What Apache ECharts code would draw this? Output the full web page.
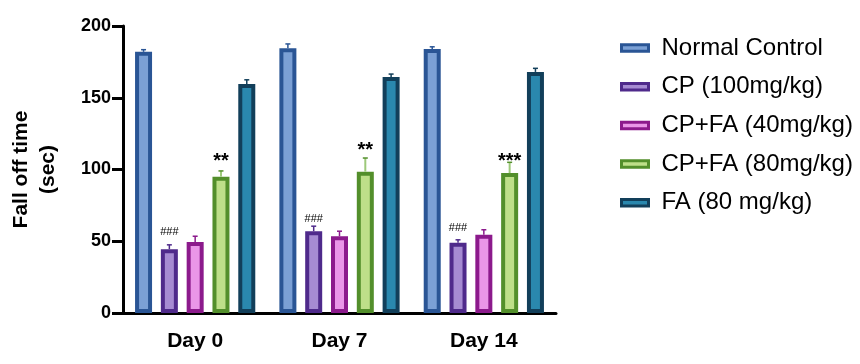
<!DOCTYPE html>
<html><head><meta charset="utf-8">
<script src="https://cdn.jsdelivr.net/npm/echarts@6/dist/echarts.min.js"></script>
<style>html,body{margin:0;padding:0;background:#fff}#c{width:860px;height:364px}</style>
</head><body><div id="c"></div>
<script>
// ---- data ----
const categories = ['Day 0', 'Day 7', 'Day 14'];
const seriesNames = ['Normal Control', 'CP (100mg/kg)', 'CP+FA (40mg/kg)', 'CP+FA (80mg/kg)', 'FA (80 mg/kg)'];
const normalControl = [182, 184.5, 184];
const normalControlErr = [1.5, 3, 1.5];
const cp100 = [44.5, 57, 49];
const cp100Err = [3, 3.5, 2];
const cpFa40 = [49.5, 53.5, 54.5];
const cpFa40Err = [4, 3.5, 3.5];
const cpFa80 = [95, 98.5, 97.5];
const cpFa80Err = [4, 9.5, 7.5];
const fa80 = [159.5, 164.5, 168];
const fa80Err = [3, 2, 2.5];
const yTicks = [0, 50, 100, 150, 200];
// significance marks (text, position in axis units)
const hashMarks = ['###', '###', '###'];
const hashMarkY = [56.6, 65.7, 59.2];
const starMarks = ['**', '**', '***'];
const starMarkY = [109, 116.7, 109];

// ---- styles ----
const borderColors = ['#2A5595', '#4F2A8B', '#8C1A8C', '#538F2B', '#123F5A'];
const fillColors = ['#7BA0D5', '#A68BD2', '#EA96E8', '#BEDF89', '#2A88AE'];
const stemColors = ['#2A5595', '#4F2A8B', '#8C1A8C', '#9DC97A', '#123F5A'];
const FONT = 'Liberation Sans';
const barW = 17, gapRatio = 0.518;
const spacing = barW * (1 + gapRatio);

const values = [normalControl, cp100, cpFa40, cpFa80, fa80];
const errs = [normalControlErr, cp100Err, cpFa40Err, cpFa80Err, fa80Err];

const series = [];
values.forEach((vals, i) => {
  series.push({
    type: 'bar', name: seriesNames[i], data: vals,
    barWidth: barW, barGap: (gapRatio * 100) + '%',
    itemStyle: { color: fillColors[i], borderColor: borderColors[i], borderWidth: 4 },
    emphasis: { disabled: true }, z: 2
  });
});
values.forEach((vals, i) => {
  series.push({
    type: 'custom', name: seriesNames[i] + ' err', z: 3,
    data: vals.map((v, j) => [j, v, v + errs[i][j]]),
    renderItem: (params, api) => {
      const b = api.coord([api.value(0), api.value(1)]);
      const t = api.coord([api.value(0), api.value(2)]);
      const x = b[0] + (i - 2) * spacing;
      return {
        type: 'group', children: [
          { type: 'line', shape: { x1: x, y1: b[1], x2: x, y2: t[1] }, style: { stroke: stemColors[i], lineWidth: i === 3 ? 2 : 1.5 } },
          { type: 'line', shape: { x1: x - 2.5, y1: t[1], x2: x + 2.5, y2: t[1] }, style: { stroke: borderColors[i], lineWidth: 1.5 } }
        ]
      };
    }
  });
});
function markSeries(texts, ys, seriesIdx, fontSize, weight, dy) {
  return {
    type: 'custom', z: 4, silent: true,
    data: texts.map((t, j) => [j, ys[j]]),
    renderItem: (params, api) => {
      const p = api.coord([api.value(0), api.value(1)]);
      return {
        type: 'text', x: p[0] + (seriesIdx - 2) * spacing, y: p[1] + dy,
        style: { text: texts[params.dataIndex], font: weight + ' ' + fontSize + 'px "' + FONT + '"', fill: '#000', align: 'center', verticalAlign: 'middle' }
      };
    }
  };
}
series.push(markSeries(hashMarks, hashMarkY, 1, 11, 'normal', 0));
series.push(markSeries(starMarks, starMarkY, 3, 20, 'bold', 5));

const option = {
  animation: false,
  textStyle: { fontFamily: FONT },
  grid: { left: 123, right: 304, top: 26, bottom: 51, containLabel: false },
  legend: {
    data: seriesNames, orient: 'vertical', left: 620, top: 36, padding: 0,
    icon: 'rect', itemWidth: 27, itemHeight: 6.5, itemGap: 14.7,
    itemStyle: { borderWidth: 3 },
    textStyle: { fontFamily: FONT, fontSize: 24, color: '#000', lineHeight: 24, padding: [0, 0, 0, 8] },
    selectedMode: false
  },
  xAxis: {
    type: 'category', data: categories,
    axisLine: { lineStyle: { color: '#000', width: 3 } },
    axisTick: { alignWithLabel: true, length: 7, lineStyle: { color: '#000', width: 3 } },
    axisLabel: { color: '#000', fontFamily: FONT, fontWeight: 'bold', fontSize: 21, margin: 18 }
  },
  yAxis: {
    type: 'value', min: yTicks[0], max: yTicks[yTicks.length - 1], interval: yTicks[1] - yTicks[0],
    name: 'Fall off time\n(sec)', nameLocation: 'middle', nameRotate: 90, nameGap: 62,
    nameTextStyle: { color: '#000', fontFamily: FONT, fontWeight: 'bold', fontSize: 21, lineHeight: 26.5 },
    axisLine: { show: true, lineStyle: { color: '#000', width: 3 } },
    axisTick: { show: true, length: 11, lineStyle: { color: '#000', width: 3 } },
    axisLabel: { color: '#000', fontFamily: FONT, fontWeight: 'bold', fontSize: 18, margin: 12 },
    splitLine: { show: false }
  },
  series
};
const chart = echarts.init(document.getElementById('c'), null, { renderer: 'canvas' });
chart.setOption(option);
</script></body></html>
